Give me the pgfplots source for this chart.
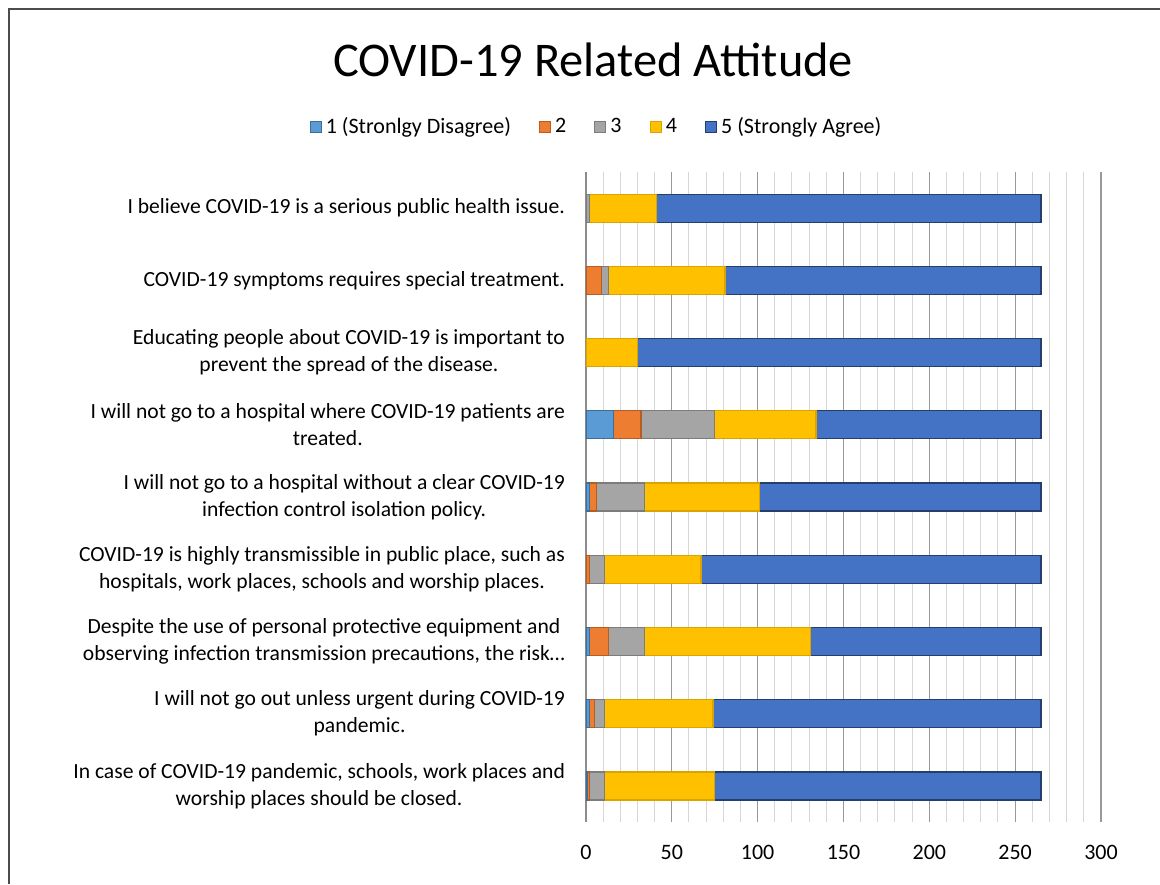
\documentclass[border=0pt]{standalone}
\usepackage{fontspec}
\setmainfont{Carlito}
\usepackage{pgfplots}
\pgfplotsset{compat=1.18}

\definecolor{c1}{HTML}{5B9BD5}
\definecolor{c2}{HTML}{ED7D31}
\definecolor{c3}{HTML}{A5A5A5}
\definecolor{c4}{HTML}{FFC000}
\definecolor{c5}{HTML}{4472C4}

\newcommand{\lblfont}{\fontsize{10.8}{13.5}\selectfont}
\newcommand{\smfont}{\fontsize{11}{13}\selectfont}

\begin{document}
\begin{tikzpicture}
\useasboundingbox (-293pt,-31pt) rectangle (287pt,411pt);
\draw[line width=1pt, black!70] (-288.5pt,-31pt) -- (-288.5pt,406.5pt) -- (287pt,406.5pt);
\begin{axis}[
  at={(0,0)}, anchor=south west,
  xbar stacked,
  scale only axis,
  width=257.5pt, height=325pt,
  bar width=14pt,
  xmin=0, xmax=300, ymin=0.5, ymax=9.5,
  y dir=reverse,
  xtick={0,50,100,150,200,250,300},
  minor x tick num=4,
  xmajorgrids, xminorgrids,
  major grid style={draw=black!40, line width=0.6pt},
  minor grid style={draw=black!16, line width=0.5pt},
  ytick={1,2,3,4,5,6,7,8,9},
  yticklabels={
    {I believe COVID-19 is a serious public health issue.},
    {COVID-19 symptoms requires special treatment.},
    {Educating people about COVID-19 is important to\\prevent the spread of the disease.},
    {I will not go to a hospital where COVID-19 patients are\\treated.},
    {I will not go to a hospital without a clear COVID-19\\infection control isolation policy.},
    {COVID-19 is highly transmissible in public place, such as\\hospitals, work places, schools and worship places.},
    {Despite the use of personal protective equipment and\\observing infection transmission precautions, the risk…},
    {I will not go out unless urgent during COVID-19\\pandemic.},
    {In case of COVID-19 pandemic, schools, work places and\\worship places should be closed.}
  },
  yticklabel style={align=center, font=\lblfont, xshift=-7pt},
  xticklabel style={font=\smfont, yshift=-8pt},
  /pgf/number format/assume math mode=true,
  major tick length=0pt, minor tick length=0pt,
  axis x line*=bottom, axis y line*=left,
  x axis line style={draw=none},
  y axis line style={draw=black!45, line width=0.8pt},
  title={COVID-19 Related Attitude},
  title style={at={(axis description cs:0.0136,1.1538)}, anchor=center,
    font=\fontsize{24.2}{28}\selectfont},
  legend columns=5,
  legend style={at={(axis description cs:0.0223,1.0692)}, anchor=center,
    draw=none, font=\smfont,
    /tikz/every even column/.append style={column sep=12pt}},
  legend image code/.code={\draw[#1, line width=0.5pt] (0pt,-2.8pt) rectangle (5.6pt,2.8pt);},
  every axis plot/.append style={line width=0.6pt},
]
\addplot[fill=c1, draw=c1!70!black] coordinates {
  (0,1) (0,2) (0,3) (16,4) (2,5) (0,6) (2,7) (2,8) (1,9)};
\addlegendentry{1 (Stronlgy Disagree)}
\addplot[fill=c2, draw=c2!75!black] coordinates {
  (0,1) (9,2) (0,3) (16,4) (4,5) (2,6) (11,7) (3,8) (1,9)};
\addlegendentry{2}
\addplot[fill=c3, draw=c3!75!black] coordinates {
  (2,1) (4,2) (0,3) (43,4) (28,5) (9,6) (21,7) (6,8) (9,9)};
\addlegendentry{3}
\addplot[fill=c4, draw=c4!85!black] coordinates {
  (39,1) (68,2) (30,3) (59,4) (67,5) (56,6) (97,7) (63,8) (64,9)};
\addlegendentry{4}
\addplot[fill=c5, draw=c5!55!black] coordinates {
  (224,1) (184,2) (235,3) (131,4) (164,5) (198,6) (134,7) (191,8) (190,9)};
\addlegendentry{5 (Strongly Agree)}
\end{axis}
\end{tikzpicture}
\end{document}
